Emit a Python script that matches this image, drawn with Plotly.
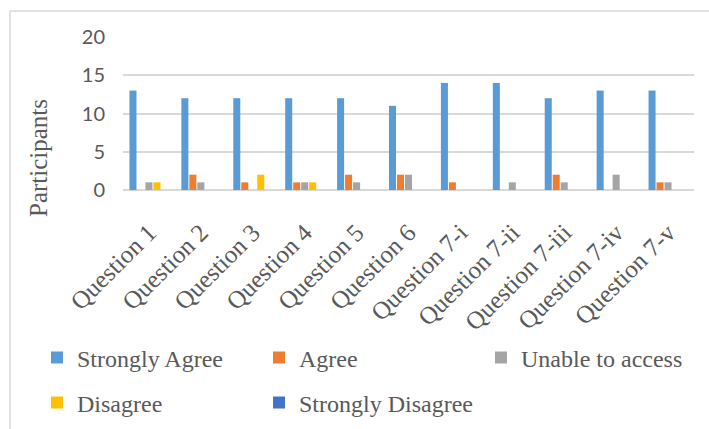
import plotly.graph_objects as go

categories = ["Question 1", "Question 2", "Question 3", "Question 4", "Question 5",
              "Question 6", "Question 7-i", "Question 7-ii", "Question 7-iii",
              "Question 7-iv", "Question 7-v"]
strongly_agree = [13, 12, 12, 12, 12, 11, 14, 14, 12, 13, 13]
agree = [0, 2, 1, 1, 2, 2, 1, 0, 2, 0, 1]
unable = [1, 1, 0, 1, 1, 2, 0, 1, 1, 2, 1]
disagree = [1, 0, 2, 1, 0, 0, 0, 0, 0, 0, 0]
strongly_disagree = [0, 0, 0, 0, 0, 0, 0, 0, 0, 0, 0]
y_ticks = [0, 5, 10, 15, 20]

W, H = 709, 429
L, R, T, B = 123, 15, 37, 239
PW, PH = W - L - R, H - T - B

def px_x(p):
    return (p - L) / PW

def px_y(p):
    return (H - B - p) / PH

series = [
    ("Strongly Agree", strongly_agree, "#5B9BD5", "legend"),
    ("Agree", agree, "#ED7D31", "legend"),
    ("Unable to access", unable, "#A5A5A5", "legend"),
    ("Disagree", disagree, "#FFC000", "legend2"),
    ("Strongly Disagree", strongly_disagree, "#4472C4", "legend2"),
]

fig = go.Figure()
for name, vals, color, leg in series:
    fig.add_trace(go.Bar(x=categories, y=vals, name=name, marker_color=color,
                         marker_line_width=0, legend=leg))

text_col = "#595959"
serif = "Liberation Serif, Times New Roman, serif"
legend_common = dict(orientation="h", xanchor="left", yanchor="middle",
                     font=dict(family=serif, size=24, color=text_col),
                     entrywidth=177, entrywidthmode="pixels",
                     bgcolor="rgba(0,0,0,0)", itemclick=False)

border = dict(color="#D9D9D9", width=1.5)

fig.update_layout(
    width=W, height=H,
    margin=dict(l=L, r=R, t=T, b=B, pad=0, autoexpand=False),
    paper_bgcolor="white", plot_bgcolor="white",
    barmode="group", bargap=0.23, bargroupgap=0.12,
    showlegend=True,
    legend=dict(x=px_x(37), y=px_y(358), **legend_common),
    legend2=dict(x=px_x(37), y=px_y(403), **legend_common),
    xaxis=dict(tickangle=-45, showgrid=False, showline=False, ticks="",
               automargin=False, ticklabelstandoff=22,
               tickfont=dict(family=serif, size=25, color=text_col)),
    yaxis=dict(range=[0, 20], tickvals=y_ticks, showgrid=True,
               gridcolor="#D9D9D9", gridwidth=1.5, zeroline=True,
               zerolinecolor="#D9D9D9", zerolinewidth=2, showline=False,
               ticks="", ticklabelstandoff=17, automargin=False,
               tickfont=dict(family="Lato, Carlito, sans-serif", size=20, color=text_col)),
    shapes=[
        dict(type="line", xref="paper", yref="paper",
             x0=px_x(10), x1=px_x(709), y0=px_y(11), y1=px_y(11), line=border),
        dict(type="line", xref="paper", yref="paper",
             x0=px_x(10), x1=px_x(10), y0=px_y(11), y1=px_y(429), line=border),
    ],
    annotations=[dict(text="Participants", xref="paper", yref="paper",
                      x=px_x(38), y=px_y(158), xanchor="center", yanchor="middle",
                      textangle=-90, showarrow=False,
                      font=dict(family=serif, size=25, color=text_col))],
)

fig.write_html("out.html")
